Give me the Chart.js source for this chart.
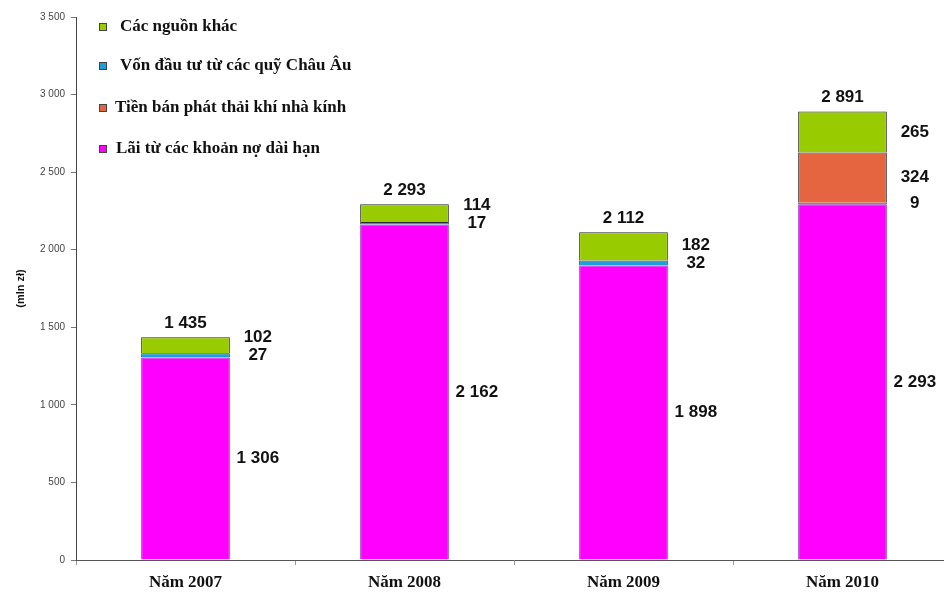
<!DOCTYPE html>
<html lang="vi">
<head>
<meta charset="utf-8">
<style>
  html, body { margin: 0; padding: 0; background: #fff; overflow: hidden; }
  #wrap { width: 952px; height: 592px; }
</style>
</head>
<body>
<div id="wrap"><canvas id="myChart" width="952" height="592"></canvas></div>
<script src="https://cdn.jsdelivr.net/npm/chart.js"></script>
<script>
const years = ['Năm 2007', 'Năm 2008', 'Năm 2009', 'Năm 2010'];
const loanInterest = [1306, 2162, 1898, 2293];
const euFunds = [27, 17, 32, 9];
const emissionSales = [0, 0, 0, 324];
const otherSources = [102, 114, 182, 265];
const totals = [1435, 2293, 2112, 2891];
const yTicks = [0, 500, 1000, 1500, 2000, 2500, 3000, 3500];
// dataset indexes in the order the legend lists them, top to bottom
const legendOrder = [3, 1, 2, 0];

function fmt(v) {
  return String(v).replace(/\B(?=(\d{3})+(?!\d))/g, ' ');
}

// values beside each bar segment, and the total above it
const labelsPlugin = {
  id: 'barLabels',
  afterDatasetsDraw(chart) {
    const ctx = chart.ctx;
    ctx.save();
    ctx.font = 'bold 17px "Liberation Sans", Arial, sans-serif';
    ctx.fillStyle = '#111';
    ctx.textBaseline = 'middle';
    ctx.textAlign = 'center';
    const n = chart.data.labels.length;
    for (let i = 0; i < n; i++) {
      let items = [];
      chart.data.datasets.forEach((ds, d) => {
        if (!ds.data[i]) return;
        const bar = chart.getDatasetMeta(d).data[i];
        items.push({ y: (bar.y + bar.base) / 2, text: fmt(ds.data[i]), x: bar.x + bar.width / 2 + 28 });
      });
      // push labels apart so small segments do not overlap (bottom up)
      for (let k = 1; k < items.length; k++) {
        if (items[k - 1].y - items[k].y < 18) items[k].y = items[k - 1].y - 18;
      }
      items.forEach(it => ctx.fillText(it.text, it.x, it.y));
      const top = chart.getDatasetMeta(0).data[i];
      const topY = chart.scales.y.getPixelForValue(totals[i]);
      ctx.fillText(fmt(totals[i]), top.x, topY - 14);
    }
    ctx.restore();
  }
};

// legend drawn inside the plot, top-left
const legendPlugin = {
  id: 'innerLegend',
  afterDraw(chart) {
    const ctx = chart.ctx;
    ctx.save();
    ctx.font = 'bold 17px "Liberation Serif", "Times New Roman", serif';
    ctx.textBaseline = 'middle';
    ctx.textAlign = 'left';
    const rowY = [27, 66, 108, 149];
    const textX = [120, 120, 115, 116];
    legendOrder.forEach((idx, k) => {
      const d = chart.data.datasets[idx];
      const y = rowY[k];
      ctx.fillStyle = d.backgroundColor;
      ctx.fillRect(99, y - 4, 8, 8);
      ctx.strokeStyle = '#444';
      ctx.lineWidth = 1;
      ctx.strokeRect(99.5, y - 3.5, 7, 7);
      ctx.fillStyle = '#111';
      ctx.fillText(d.label, textX[k], y);
    });
    ctx.restore();
  }
};

const data = {
  labels: years,
  datasets: [
    { label: 'Lãi từ các khoản nợ dài hạn', data: loanInterest, backgroundColor: '#ff00ff', borderColor: '#8e2fb8' },
    { label: 'Vốn đầu tư từ các quỹ Châu Âu', data: euFunds, backgroundColor: '#1e9ed8', borderColor: '#2a2a40' },
    { label: 'Tiền bán phát thải khí nhà kính', data: emissionSales, backgroundColor: '#e4653f', borderColor: '#2a2a2a' },
    { label: 'Các nguồn khác', data: otherSources, backgroundColor: '#99cc00', borderColor: '#2a2a2a' }
  ].map(d => Object.assign(d, { borderWidth: 1, barPercentage: 0.405, categoryPercentage: 1 }))
};

const config = {
  type: 'bar',
  data: data,
  options: {
    responsive: false,
    animation: false,
    layout: { padding: { top: 17, right: 0, left: 0, bottom: 0 } },
    plugins: { legend: { display: false }, tooltip: { enabled: false } },
    scales: {
      x: {
        stacked: true,
        border: { color: '#555', width: 1 },
        grid: { display: true, drawOnChartArea: false, offset: true, tickLength: 5, color: '#999' },
        ticks: {
          padding: 7,
          color: '#111',
          font: { family: '"Liberation Serif", "Times New Roman", serif', size: 17, weight: 'bold' }
        },
        afterFit(scale) { scale.height = 32; }
      },
      y: {
        stacked: true,
        min: 0,
        max: 3500,
        afterBuildTicks(scale) { scale.ticks = yTicks.map(v => ({ value: v })); },
        border: { color: '#444', width: 1 },
        grid: { display: true, drawOnChartArea: false, tickLength: 5, color: '#777' },
        ticks: {
          padding: 6,
          color: '#444',
          font: { family: '"Liberation Sans", Arial, sans-serif', size: 10 },
          callback: v => fmt(v)
        },
        title: {
          display: true,
          text: '(mln zł)',
          color: '#111',
          padding: { top: 14, bottom: 0 },
          font: { family: '"Liberation Sans", Arial, sans-serif', size: 11, weight: 'bold' }
        },
        afterFit(scale) { scale.width = 76; }
      }
    }
  },
  plugins: [labelsPlugin, legendPlugin]
};

const myChart = new Chart(document.getElementById('myChart'), config);
</script>
</body>
</html>
